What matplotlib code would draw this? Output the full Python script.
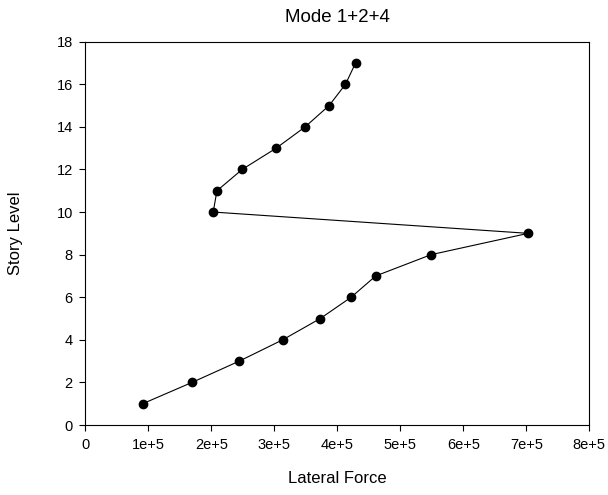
import matplotlib
matplotlib.use('Agg')
import matplotlib.pyplot as plt

plt.rcParams['font.family'] = ['Liberation Sans', 'DejaVu Sans']

# Lateral force per story
story = [1, 2, 3, 4, 5, 6, 7, 8, 9, 10, 11, 12, 13, 14, 15, 16, 17]
force = [0.911e5, 1.694e5, 2.444e5, 3.133e5, 3.73e5, 4.22e5, 4.61e5, 5.49e5, 7.03e5,
         2.03e5, 2.09e5, 2.49e5, 3.03e5, 3.49e5, 3.87e5, 4.13e5, 4.29e5]

xticks = [0, 1e5, 2e5, 3e5, 4e5, 5e5, 6e5, 7e5, 8e5]
xticklabels = ['0', '1e+5', '2e+5', '3e+5', '4e+5', '5e+5', '6e+5', '7e+5', '8e+5']
yticks = [0, 2, 4, 6, 8, 10, 12, 14, 16, 18]

fig = plt.figure(figsize=(6.08, 4.95), dpi=100)
ax = fig.add_axes([0.1403, 0.1414, 0.8289, 0.7744])

ax.plot(force, story, color='black', lw=0.8, marker='o', markersize=6)

ax.set_xlim(0, 8e5)
ax.set_ylim(0, 18)
ax.set_xticks(xticks)
ax.set_xticklabels(xticklabels)
ax.set_yticks(yticks)
ax.tick_params(direction='out', length=4, width=0.8, labelsize=10.5, pad=5)
for s in ax.spines.values():
    s.set_linewidth(0.8)

ax.set_xlabel('Lateral Force', fontsize=12)
ax.set_ylabel('Story Level', fontsize=12)
ax.xaxis.set_label_coords(0.5, -0.12)
ax.yaxis.set_label_coords(-0.124, 0.5)
ax.set_title('Mode 1+2+4', fontsize=13.5, pad=14)

fig.savefig('out.png', dpi=100)
